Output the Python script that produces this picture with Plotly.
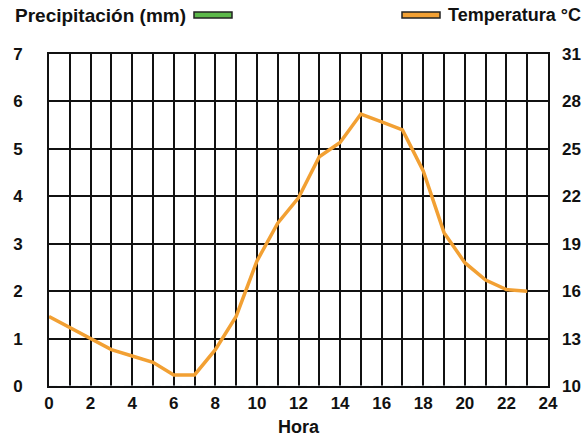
import plotly.graph_objects as go

hours = list(range(24))
temperature = [14.4, 13.7, 13.0, 12.3, 11.9, 11.5, 10.7, 10.7, 12.3, 14.4,
               17.9, 20.3, 21.9, 24.5, 25.4, 27.2, 26.7, 26.2, 23.6, 19.7,
               17.8, 16.7, 16.1, 16.0]
precipitation = [0] * 24
x_ticks = list(range(0, 25, 2))
left_ticks = list(range(0, 8))
right_ticks = list(range(10, 32, 3))

ORANGE = "#F2A033"
GREEN = "#5CB84A"
FONT = "Liberation Sans"

fig = go.Figure()
fig.add_trace(go.Bar(x=hours, y=precipitation, marker_color=GREEN,
                     name="Precipitación (mm)", yaxis="y"))
fig.add_trace(go.Scatter(x=hours, y=temperature, mode="lines",
                         line=dict(color=ORANGE, width=3.5),
                         name="Temperatura °C", yaxis="y2"))

tickfont = dict(family=FONT, size=17, color="#111111", weight="bold")
titlefont = dict(family=FONT, size=18, color="#111111", weight="bold")
precipfont = dict(family=FONT, size=19, color="#111111", weight="bold")

fig.update_layout(
    width=587, height=437,
    margin=dict(l=49, r=39, t=54, b=51, autoexpand=False),
    plot_bgcolor="white", paper_bgcolor="white",
    showlegend=False,
    xaxis=dict(range=[0, 24], tickvals=x_ticks, tickfont=tickfont,
               showgrid=True, gridcolor="#111111", gridwidth=1.5,
               minor=dict(dtick=1, showgrid=True, gridcolor="#111111", gridwidth=1.5),
               showline=True, linecolor="#111111", linewidth=2, mirror=True,
               zeroline=False, ticks="", ticklabelstandoff=1, automargin=False,
               title=dict(text="Hora", font=titlefont, standoff=8)),
    yaxis=dict(range=[0, 7], tickvals=left_ticks, tickfont=tickfont,
               showgrid=True, gridcolor="#111111", gridwidth=1.5,
               showline=True, linecolor="#111111", linewidth=2, mirror=True,
               zeroline=False, ticks="", ticklabelstandoff=21, automargin=False),
    yaxis2=dict(range=[10, 31], tickvals=right_ticks, tickfont=tickfont,
                overlaying="y", side="right", showgrid=False, zeroline=False,
                ticks="", ticklabelstandoff=13, automargin=False),
    bargap=0.2,
)

def px_x(p):
    return (p - 49) / 499

def px_y(p):
    return (386 - p) / 332

fig.add_annotation(text="Precipitación (mm)", xref="paper", yref="paper",
                   x=px_x(13), y=px_y(15), xanchor="left", yanchor="middle",
                   showarrow=False, font=precipfont)
fig.add_annotation(text="Temperatura °C", xref="paper", yref="paper",
                   x=px_x(446), y=px_y(15), xanchor="left", yanchor="middle",
                   showarrow=False, font=titlefont)
fig.add_shape(type="rect", xref="paper", yref="paper",
              x0=px_x(194), x1=px_x(232), y0=px_y(18), y1=px_y(12),
              fillcolor=GREEN, line=dict(color="#222222", width=1.5))
fig.add_shape(type="rect", xref="paper", yref="paper",
              x0=px_x(402), x1=px_x(440), y0=px_y(18), y1=px_y(12),
              fillcolor=ORANGE, line=dict(color="#222222", width=1.5))

fig.write_html("out.html", config={"displayModeBar": False},
               post_script="document.body.style.margin='0';document.body.style.overflow='hidden';")
